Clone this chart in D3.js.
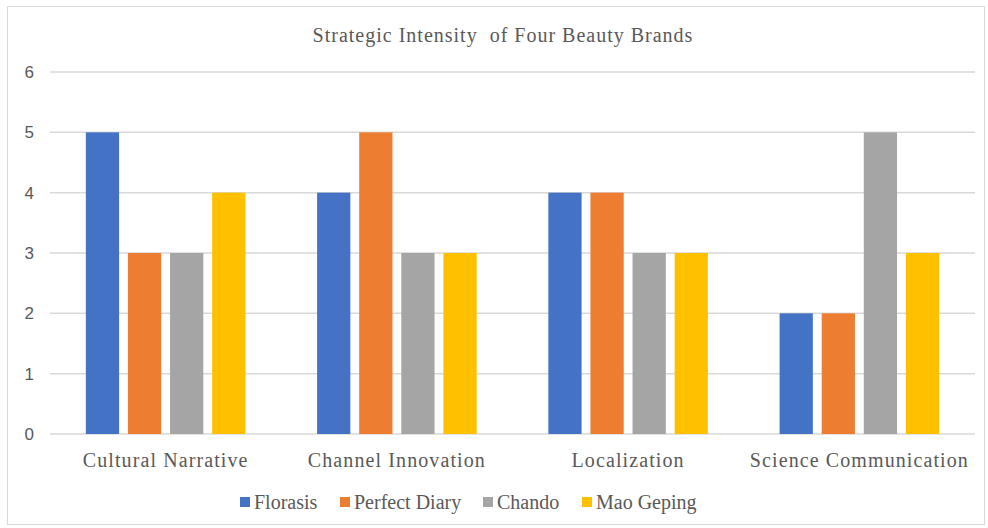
<!DOCTYPE html>
<html><head><meta charset="utf-8">
<script src="https://cdn.jsdelivr.net/npm/d3@7"></script>
<style>body{margin:0;background:#fff;}svg{display:block;}</style>
</head><body>
<svg id="c" width="988" height="528"></svg>
<script>
const categories = ["Cultural Narrative","Channel Innovation","Localization","Science Communication"];
const seriesNames = ["Florasis","Perfect Diary","Chando","Mao Geping"];
const florasis = [5,4,4,2];
const perfectDiary = [3,5,4,2];
const chando = [3,3,3,5];
const maoGeping = [4,3,3,3];
const yTicks = [0,1,2,3,4,5,6];
const colors = ["#4472C4","#ED7D31","#A5A5A5","#FFC000"];
const title = "Strategic Intensity  of Four Beauty Brands";

const series = [florasis, perfectDiary, chando, maoGeping];
const svg = d3.select("#c");
const W = 988, H = 528;
const serif = "Liberation Serif, Times New Roman, serif";
svg.append("rect").attr("x",7.5).attr("y",6.5).attr("width",W-11).attr("height",H-10)
  .attr("fill","#fff").attr("stroke","#d9d9d9").attr("stroke-width",1);

const L = 50, R = 975, T = 72, B = 434;
const x = d3.scaleBand().domain(categories).range([L,R]).paddingInner(0.31).paddingOuter(0.155);
const xs = d3.scaleBand().domain(d3.range(4)).range([0,x.bandwidth()]).paddingInner(0.21);
const y = d3.scaleLinear().domain([0,6]).range([B,T]);

const grid = svg.append("g");
grid.selectAll("line").data(yTicks).join("line")
  .attr("x1",L).attr("x2",R).attr("y1",d=>y(d)).attr("y2",d=>y(d))
  .attr("stroke","#d9d9d9").attr("stroke-width",1.5);

const yAxis = svg.append("g").attr("transform",`translate(${L},0)`)
  .call(d3.axisLeft(y).tickValues(yTicks).tickSize(0).tickPadding(16).tickFormat(d3.format("d")));
yAxis.select(".domain").remove();
yAxis.selectAll("text").attr("font-family","Liberation Sans, Arial, sans-serif").attr("font-size",17).attr("fill","#595959");

const groups = svg.append("g").selectAll("g").data(categories).join("g")
  .attr("transform",d=>`translate(${x(d)},0)`);
groups.selectAll("rect").data((c,ci)=>series.map((s,si)=>({si,v:s[ci]}))).join("rect")
  .attr("x",d=>xs(d.si)).attr("width",xs.bandwidth())
  .attr("y",d=>y(d.v)).attr("height",d=>y(0)-y(d.v))
  .attr("fill",d=>colors[d.si]);

const xAxis = svg.append("g").attr("transform",`translate(0,${B})`)
  .call(d3.axisBottom(x).tickSize(0).tickPadding(19));
xAxis.select(".domain").remove();
xAxis.selectAll("text").attr("font-family",serif).attr("font-size",20)
  .attr("letter-spacing","1.1px").attr("fill","#595959");

svg.append("text").attr("x",503).attr("y",42).attr("text-anchor","middle")
  .attr("font-family",serif).attr("font-size",20).attr("letter-spacing","1px").attr("fill","#595959")
  .style("white-space","pre").text(title);

const legX = [240,340,483,582];
const leg = svg.append("g").selectAll("g").data(seriesNames).join("g")
  .attr("transform",(d,i)=>`translate(${legX[i]},497)`);
leg.append("rect").attr("width",10).attr("height",10).attr("fill",(d,i)=>colors[i]);
leg.append("text").attr("x",14).attr("y",11.5).attr("font-family",serif)
  .attr("font-size",20).attr("fill","#595959").text(d=>d);
</script>
</body></html>
